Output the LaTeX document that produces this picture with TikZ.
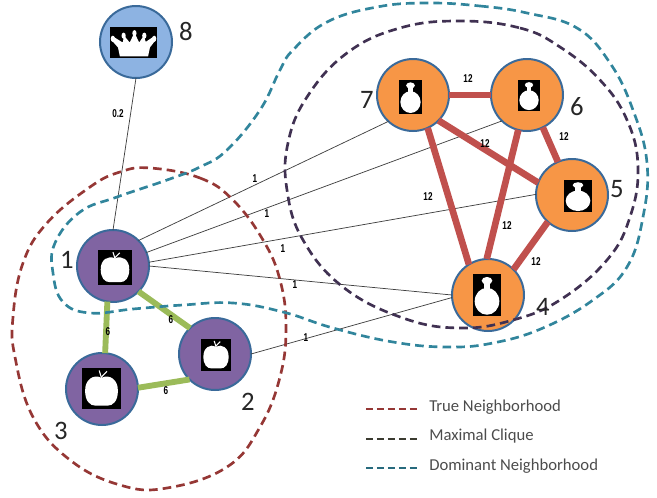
\documentclass[tikz,border=0pt]{standalone}
\usepackage{fontspec}
\setmainfont{Carlito}
\newfontfamily\edgefont[FakeStretch=0.72]{Liberation Sans}
\definecolor{cborder}{HTML}{3A6A9A}
\definecolor{cpurple}{HTML}{8064A2}
\definecolor{corange}{HTML}{F79646}
\definecolor{cblue}{HTML}{8DB3E2}
\definecolor{cred}{HTML}{C0504D}
\definecolor{cgreen}{HTML}{9BBB59}
\definecolor{cdred}{HTML}{953735}
\definecolor{cdpurple}{HTML}{403152}
\definecolor{cteal}{HTML}{31859C}
\definecolor{cblack}{HTML}{3B3B30}
\tikzset{
  x=0.75pt,y=-0.75pt,
  vertex/.style={circle,draw=cborder,line width=1.5pt,minimum size=54pt,inner sep=0pt,outer sep=0pt},
  vpurple/.style={vertex,fill=cpurple},
  vorange/.style={vertex,fill=corange},
  vblue/.style={vertex,fill=cblue},
  redge/.style={cred,line width=5pt},
  gedge/.style={cgreen,line width=4.4pt},
  thin edge/.style={black!75,line width=0.55pt},
  num/.style={font=\fontsize{20}{20}\selectfont,text=black!85,inner sep=0pt},
  wt/.style={font=\edgefont\bfseries\fontsize{8.5}{9}\selectfont,inner sep=0pt},
  legendtext/.style={font=\fontsize{12.5}{14}\selectfont,text=black!70,anchor=west,inner sep=0pt},
  curve/.style={line width=2pt,dash pattern=on 6.5pt off 3.8pt},
  legline/.style={line width=1.8pt,dash pattern=on 5.5pt off 2.7pt},
}
\newcommand{\appleicon}[4]{%
  \begin{scope}[shift={(#1,#2)},xscale=#3,yscale=#4]
    \fill[black] (0,0) rectangle (1,1);
    \fill[white] (.5,.24) .. controls (.7,.14) and (.93,.28) .. (.92,.56)
      .. controls (.92,.8) and (.8,.92) .. (.65,.92)
      .. controls (.55,.92) and (.45,.92) .. (.35,.92)
      .. controls (.2,.92) and (.08,.8) .. (.08,.56)
      .. controls (.07,.28) and (.3,.14) .. (.5,.24) -- cycle;
    \draw[white,line width=.8pt] (.5,.24) -- (.44,.06);
    \draw[white,line width=.8pt] (.5,.22) -- (.64,.08);
  \end{scope}}
\newcommand{\bottleicon}[4]{%
  \begin{scope}[shift={(#1,#2)},xscale=#3,yscale=#4]
    \fill[black] (0,0) rectangle (1,1);
    \fill[white] (.5,.65) ellipse [x radius=.44,y radius=.32];
    \fill[white] (.5,.16) ellipse [x radius=.19,y radius=.09];
    \fill[white] (.41,.2) rectangle (.59,.38);
  \end{scope}}
\begin{document}
\begin{tikzpicture}
\useasboundingbox (0,0) rectangle (657,497);
% vertices
\node[vblue] (n8) at (136,42) {};
\node[vpurple] (n1) at (113,266) {};
\node[vpurple] (n2) at (215,354) {};
\node[vpurple] (n3) at (102,389) {};
\node[vorange] (n4) at (488,295) {};
\node[vorange] (n5) at (572,195) {};
\node[vorange] (n6) at (527,95) {};
\node[vorange] (n7) at (413,95) {};
% thin connectors
\draw[thin edge] (n1.90) -- (n8.-90);
\draw[thin edge] (n1.45) -- (n7.-133);
\draw[thin edge] (n1.22) -- (n6.-134);
\draw[thin edge] (n1.6) -- (n5.179);
\draw[thin edge] (n1.0) -- (n4.180);
\draw[thin edge] (n2.0) -- (n4.-176);
% thick connectors
\draw[redge] (n7) -- (n6);
\draw[redge] (n7.-45) -- (n5.160);
\draw[redge] (n7.-66) -- (n4.122);
\draw[redge] (n6.-104) -- (n4.92);
\draw[redge] (n6.-64) -- (n5.113);
\draw[redge] (n5.-132) -- (n4.45);
\draw[gedge] (n1.-99) -- (n3.85);
\draw[gedge] (n1.-45) -- (n2.134);
\draw[gedge] (n3.2) -- (n2.-135);
% icons
\appleicon{98}{250}{34}{35}
\appleicon{201}{339}{30}{32}
\appleicon{82}{368}{39}{41}
\bottleicon{399}{80}{23}{34}
\bottleicon{518}{80}{22}{31}
\bottleicon{564}{180}{28}{32}
\bottleicon{473}{274}{28}{42}
\begin{scope}[shift={(110,27)},xscale=47,yscale=31]
  \fill[black] (0,0) rectangle (1,1);
  \fill[white] (.21,.95) -- (.81,.95) -- (.85,.66) -- (.97,.42) -- (.92,.32) -- (.76,.48) -- (.72,.28) -- (.62,.5) -- (.52,.18) -- (.42,.5) -- (.3,.28) -- (.27,.5) -- (.08,.32) -- (.03,.42) -- (.17,.66) -- cycle;
  \foreach \px/\py in {.06/.38,.29/.28,.52/.2,.73/.28,.94/.38}
    \fill[white] (\px,\py) ellipse [x radius=.045,y radius=.1];
\end{scope}
% dashed outlines
\draw[curve,cdred] plot[smooth cycle,tension=.7] coordinates {(150,168) (200,178) (233,200) (263,240) (280,280) (286,327) (280,377) (260,427) (227,467) (167,488) (120,485) (70,460) (33,417) (15,357) (13,317) (23,263) (47,223) (90,187) (120,172)};
\draw[curve,cdpurple] plot[smooth cycle,tension=.7] coordinates {(460,21) (520,28) (560,47) (600,80) (627,120) (638,167) (630,217) (607,260) (560,300) (513,320) (460,328) (403,318) (343,287) (303,240) (287,190) (288,143) (307,97) (347,53) (400,28)};
\draw[curve,cteal] plot[smooth cycle,tension=.7] coordinates {(427,3) (480,6) (527,13) (577,28) (610,63) (633,110) (647,163) (643,217) (627,267) (593,300) (543,328) (493,343) (447,347) (393,342) (333,328) (283,312) (233,303) (183,305) (133,309) (90,313) (63,302) (53,273) (55,243) (80,212) (117,197) (167,180) (200,167) (227,150) (260,110) (280,70) (293,50) (327,22) (377,7)};
% vertex numbers
\node[num] (t1) at (67,260) {1};
\node[num] (t2) at (248,402) {2};
\node[num] (t3) at (61,431) {3};
\node[num] (t4) at (543,307) {4};
\node[num] (t5) at (617,189) {5};
\node[num] (t6) at (577,107) {6};
\node[num] (t7) at (367,100) {7};
\node[num] (t8) at (186,31) {8};
% weights
\node[wt] (w82) at (118,114) {0.2};
\node[wt] (w17) at (255,179) {1};
\node[wt] (w16) at (267,214) {1};
\node[wt] (w15) at (283,249) {1};
\node[wt] (w14) at (295,285) {1};
\node[wt] (w24) at (306,338) {1};
\node[wt] (w76) at (468,79) {12};
\node[wt] (w75) at (485,144) {12};
\node[wt] (w65) at (564,137) {12};
\node[wt] (w74) at (428,197) {12};
\node[wt] (w64) at (507,226) {12};
\node[wt] (w54) at (536,262) {12};
\node[wt] (w13) at (108,332) {6};
\node[wt] (w12) at (171,320) {6};
\node[wt] (w32) at (166,391) {6};
% legend
\coordinate (la) at (366,409); \coordinate (lb) at (418,409);
\coordinate (lc) at (366,439); \coordinate (ld) at (418,439);
\coordinate (le) at (366,468); \coordinate (lf) at (418,468);
\draw[legline,cdred] (la) -- (lb);
\draw[legline,cblack] (lc) -- (ld);
\draw[legline,cteal!80!black] (le) -- (lf);
\node[legendtext] (l1) at (429,407) {True Neighborhood};
\node[legendtext] (l2) at (429,436) {Maximal Clique};
\node[legendtext] (l3) at (429,466) {Dominant Neighborhood};
\end{tikzpicture}
\end{document}
